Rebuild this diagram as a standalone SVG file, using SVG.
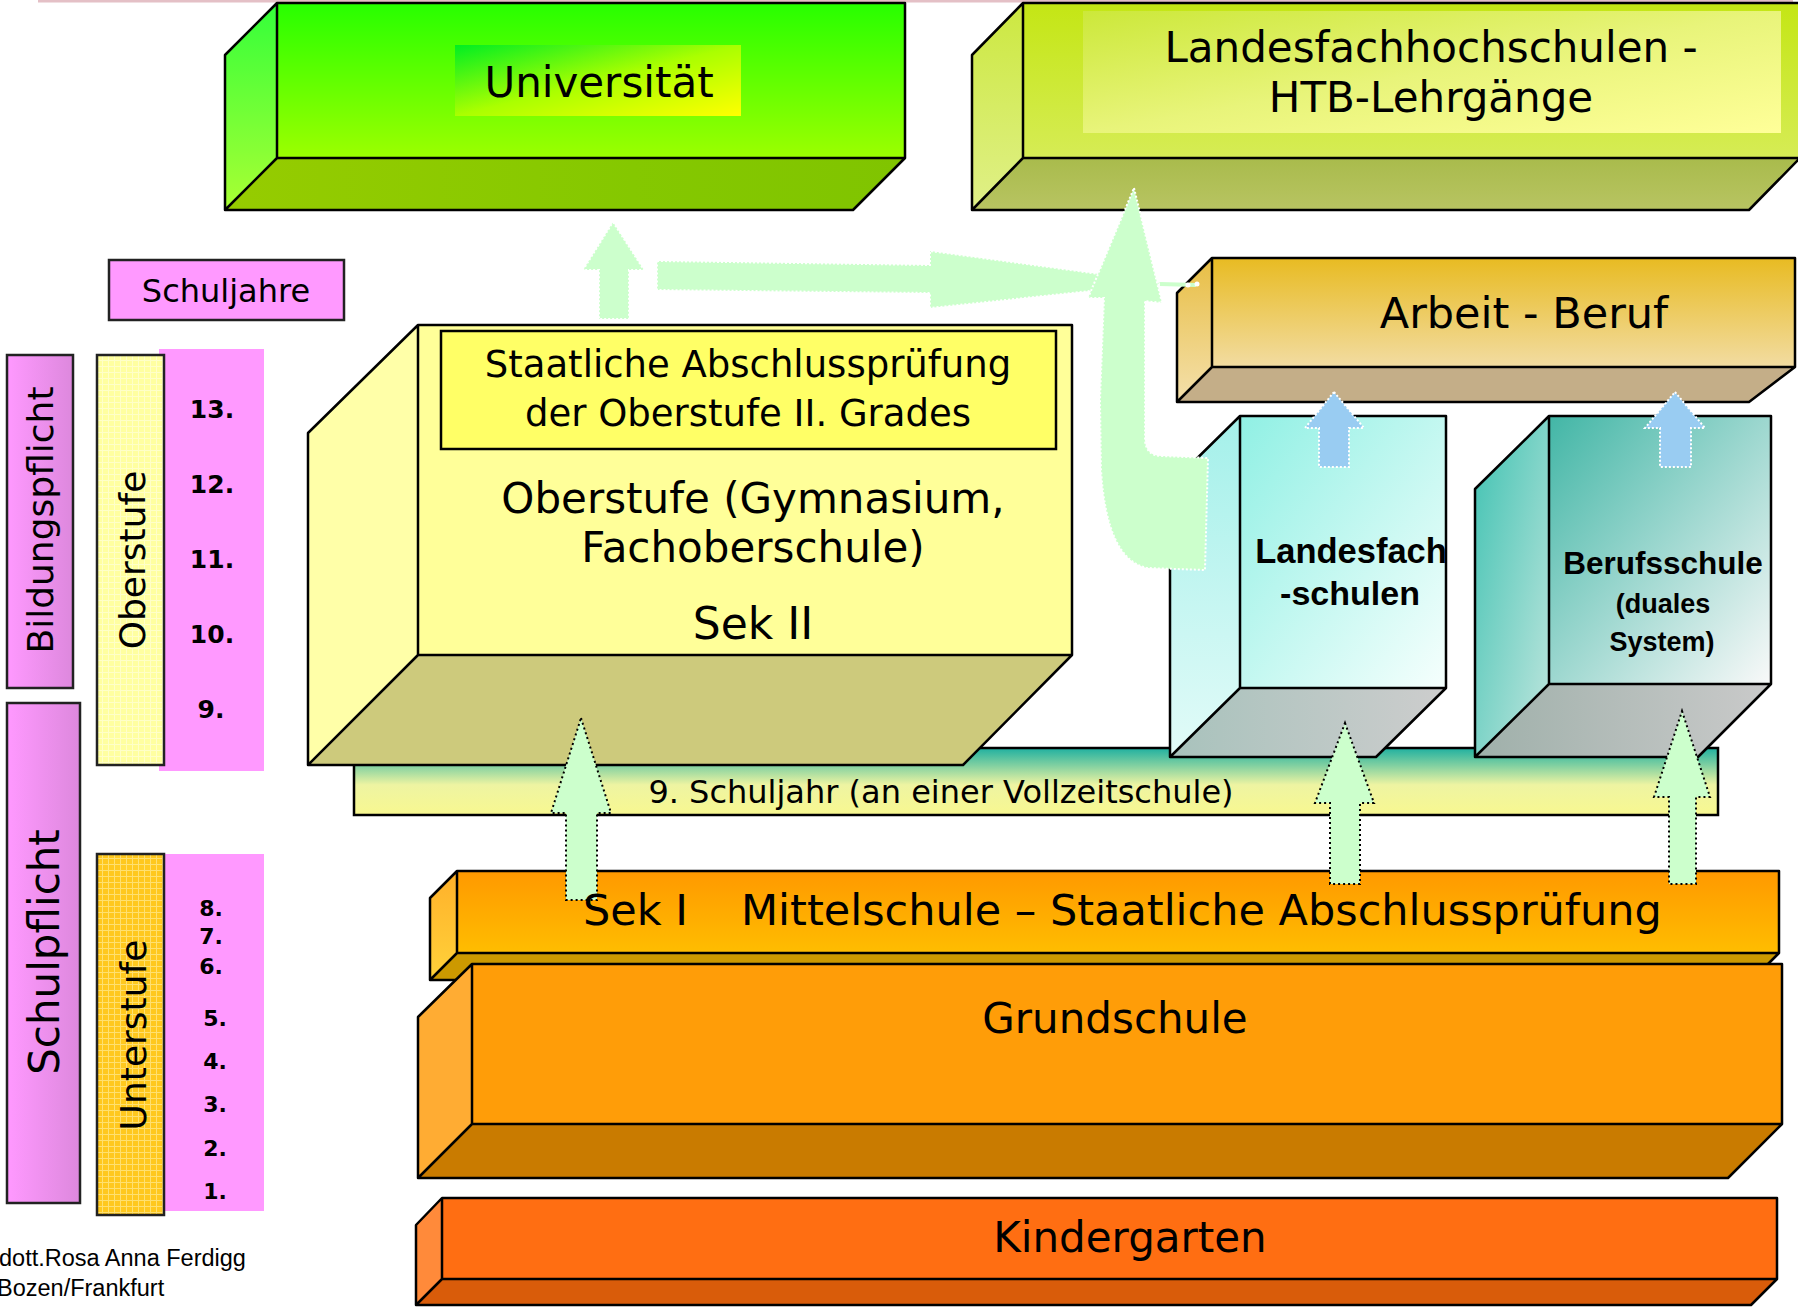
<svg xmlns="http://www.w3.org/2000/svg" width="1798" height="1311" viewBox="0 0 1798 1311">
<style>
.edge{fill:none;stroke:#000;stroke-width:2.5;stroke-linejoin:round}
.lbl{font-family:"DejaVu Sans",Verdana,sans-serif;fill:#000;text-anchor:middle}
.num{font-family:"DejaVu Sans",Verdana,sans-serif;font-weight:bold;fill:#000;text-anchor:middle}
.bold{font-family:"Liberation Sans",Arial,sans-serif;font-weight:bold;fill:#000;text-anchor:middle}
.foot{font-family:"Liberation Sans",Arial,sans-serif;fill:#000;font-size:23.5px}
.garrow{fill:#ccffcc;stroke:#000;stroke-width:2;stroke-dasharray:2 3}
.farrow{fill:#ccffcc;stroke:#fff;stroke-width:2;stroke-dasharray:2 2}
.barrow{fill:#99ccf2;stroke:#fff;stroke-width:2;stroke-dasharray:2 2}
</style>
<defs>
<linearGradient id="uniFront" x1="0" y1="0" x2="0" y2="1"><stop offset="0" stop-color="#27ff00"/><stop offset="1" stop-color="#9cff00"/></linearGradient>
<linearGradient id="uniSide" x1="0" y1="0" x2="0" y2="1"><stop offset="0" stop-color="#33ff3a"/><stop offset="1" stop-color="#aaff33"/></linearGradient>
<linearGradient id="uniBottom" x1="0" y1="0" x2="1" y2="0"><stop offset="0" stop-color="#96cc00"/><stop offset="0.6" stop-color="#85c800"/><stop offset="1" stop-color="#80c400"/></linearGradient>
<linearGradient id="uniLabel" x1="0" y1="0" x2="1" y2="1"><stop offset="0" stop-color="#00ee22"/><stop offset="0.5" stop-color="#aaff00"/><stop offset="1" stop-color="#ffff00"/></linearGradient>
<linearGradient id="fhFront" x1="0" y1="0" x2="0" y2="1"><stop offset="0" stop-color="#c4e614"/><stop offset="1" stop-color="#d6ec55"/></linearGradient>
<linearGradient id="fhSide" x1="0" y1="0" x2="0" y2="1"><stop offset="0" stop-color="#cce840"/><stop offset="1" stop-color="#e0f088"/></linearGradient>
<linearGradient id="fhBottom" x1="0" y1="0" x2="0" y2="1"><stop offset="0" stop-color="#a9bb4c"/><stop offset="1" stop-color="#b8c462"/></linearGradient>
<linearGradient id="fhLabel" x1="0" y1="0" x2="1" y2="1"><stop offset="0" stop-color="#cce83a"/><stop offset="0.5" stop-color="#e8f47a"/><stop offset="1" stop-color="#ffff99"/></linearGradient>
<linearGradient id="abFront" x1="0" y1="0" x2="0" y2="1"><stop offset="0" stop-color="#e8bb22"/><stop offset="1" stop-color="#f2dca2"/></linearGradient>
<linearGradient id="abSide" x1="0" y1="0" x2="0" y2="1"><stop offset="0" stop-color="#e8be44"/><stop offset="1" stop-color="#f4e0ac"/></linearGradient>
<linearGradient id="barGrad" x1="0" y1="0" x2="0" y2="1"><stop offset="0" stop-color="#1fb0a0"/><stop offset="0.55" stop-color="#eef4a2"/><stop offset="1" stop-color="#f8f890"/></linearGradient>
<linearGradient id="lfFront" x1="0" y1="0" x2="1" y2="1"><stop offset="0" stop-color="#90f0e4"/><stop offset="1" stop-color="#f6fffd"/></linearGradient>
<linearGradient id="lfSide" x1="0" y1="0" x2="0" y2="1"><stop offset="0" stop-color="#a4f0ea"/><stop offset="1" stop-color="#e2fbf8"/></linearGradient>
<linearGradient id="lfBottom" x1="0" y1="0" x2="1" y2="0"><stop offset="0" stop-color="#a8c2bc"/><stop offset="1" stop-color="#cdcdcd"/></linearGradient>
<linearGradient id="bsFront" x1="0" y1="0" x2="1" y2="1"><stop offset="0" stop-color="#42b6a6"/><stop offset="1" stop-color="#f9f9f9"/></linearGradient>
<linearGradient id="bsSide" x1="0" y1="0" x2="1" y2="1"><stop offset="0" stop-color="#40c2b2"/><stop offset="1" stop-color="#c0e6de"/></linearGradient>
<linearGradient id="bsBottom" x1="0" y1="0" x2="1" y2="0"><stop offset="0" stop-color="#9fb0aa"/><stop offset="1" stop-color="#cacaca"/></linearGradient>
<linearGradient id="s1Front" x1="0" y1="0" x2="0" y2="1"><stop offset="0" stop-color="#ff9900"/><stop offset="1" stop-color="#ffbd00"/></linearGradient>
<linearGradient id="s1Side" x1="0" y1="0" x2="0" y2="1"><stop offset="0" stop-color="#ffb02a"/><stop offset="1" stop-color="#ffd23a"/></linearGradient>
<linearGradient id="pinkGrad" x1="0" y1="0" x2="1" y2="0"><stop offset="0" stop-color="#ff99ff"/><stop offset="1" stop-color="#dd88dd"/></linearGradient>
<pattern id="grid" width="6" height="6" patternUnits="userSpaceOnUse"><rect width="6" height="6" fill="#ffc81e"/><path d="M0,0.5H6M0.5,0V6" stroke="#ffe070" stroke-width="1"/></pattern>
<pattern id="gridY" width="6" height="6" patternUnits="userSpaceOnUse"><rect width="6" height="6" fill="#ffffa0"/><path d="M0,0.5H6M0.5,0V6" stroke="#ffffc8" stroke-width="1"/></pattern>
</defs>

<rect x="0" y="0" width="1798" height="1311" fill="#fff"/>
<rect x="38" y="0" width="1755" height="2.5" fill="#e4c0c6"/>

<g id="universitaet">
<polygon points="225,55 277,3 277,158 225,210" fill="url(#uniSide)"/>
<polygon points="225,210 277,158 905,158 853,210" fill="url(#uniBottom)"/>
<rect x="277" y="3" width="628" height="155" fill="url(#uniFront)"/>
<rect x="455" y="45" width="286" height="71" fill="url(#uniLabel)"/>
<path class="edge" d="M225,55 L277,3 L905,3 L905,158 L853,210 L225,210 Z M277,3 L277,158 L905,158 M277,158 L225,210"/>
<text class="lbl" x="599" y="97" font-size="42">Universität</text>
</g>

<g id="landesfachhochschulen">
<polygon points="972,55 1023,3 1023,158 972,210" fill="url(#fhSide)"/>
<polygon points="972,210 1023,158 1800,158 1749,210" fill="url(#fhBottom)"/>
<rect x="1023" y="3" width="777" height="155" fill="url(#fhFront)"/>
<rect x="1083" y="11" width="698" height="122" fill="url(#fhLabel)"/>
<path class="edge" d="M1800,3 L1023,3 L972,55 L972,210 L1749,210 L1800,158 M1023,3 L1023,158 L1800,158 M1023,158 L972,210"/>
<text class="lbl" x="1431" y="62" font-size="42">Landesfachhochschulen -</text>
<text class="lbl" x="1431" y="112" font-size="42">HTB-Lehrgänge</text>
</g>

<g id="arbeit-beruf">
<polygon points="1177,293 1212,258 1212,367 1177,402" fill="url(#abSide)"/>
<polygon points="1177,402 1212,367 1795,367 1749,402" fill="#c4ae88"/>
<rect x="1212" y="258" width="583" height="109" fill="url(#abFront)"/>
<path class="edge" d="M1177,293 L1212,258 L1795,258 L1795,367 L1749,402 L1177,402 Z M1212,258 L1212,367 L1795,367 M1212,367 L1177,402"/>
<text class="lbl" x="1524" y="328" font-size="43">Arbeit - Beruf</text>
</g>

<g id="schuljahre">
<rect x="109" y="260" width="235" height="60" fill="#ff99ff" stroke="#222" stroke-width="2.5"/>
<text class="lbl" x="226" y="302" font-size="32">Schuljahre</text>
</g>

<g id="bildungspflicht">
<rect x="7" y="355" width="66" height="333" fill="url(#pinkGrad)" stroke="#222" stroke-width="2.5"/>
<text class="lbl" x="53" y="520" font-size="36" transform="rotate(-90 53 520)">Bildungspflicht</text>
</g>

<g id="jahre-oben">
<rect x="159" y="349" width="105" height="422" fill="#ff99ff"/>
<text class="num" x="212" y="418" font-size="25">13.</text>
<text class="num" x="212" y="493" font-size="25">12.</text>
<text class="num" x="212" y="568" font-size="25">11.</text>
<text class="num" x="212" y="643" font-size="25">10.</text>
<text class="num" x="211" y="718" font-size="25">9.</text>
</g>

<g id="oberstufe-spalte">
<rect x="97" y="355" width="67" height="410" fill="url(#gridY)" stroke="#222" stroke-width="2.5"/>
<text class="lbl" x="145" y="560" font-size="36" transform="rotate(-90 145 560)">Oberstufe</text>
</g>

<g id="schulpflicht">
<rect x="7" y="703" width="73" height="500" fill="url(#pinkGrad)" stroke="#222" stroke-width="2.5"/>
<text class="lbl" x="59" y="952" font-size="42" transform="rotate(-90 59 952)">Schulpflicht</text>
</g>

<g id="jahre-unten">
<rect x="164" y="854" width="100" height="357" fill="#ff99ff"/>
<text class="num" x="211" y="916" font-size="22">8.</text>
<text class="num" x="211" y="944" font-size="22">7.</text>
<text class="num" x="211" y="974" font-size="22">6.</text>
<text class="num" x="215" y="1026" font-size="22">5.</text>
<text class="num" x="215" y="1069" font-size="22">4.</text>
<text class="num" x="215" y="1112" font-size="22">3.</text>
<text class="num" x="215" y="1156" font-size="22">2.</text>
<text class="num" x="215" y="1199" font-size="22">1.</text>
</g>

<g id="unterstufe-spalte">
<rect x="97" y="854" width="67" height="361" fill="url(#grid)" stroke="#222" stroke-width="2.5"/>
<text class="lbl" x="146" y="1035" font-size="36" transform="rotate(-90 146 1035)">Unterstufe</text>
</g>

<g id="neuntes-schuljahr">
<rect x="354" y="748" width="1364" height="67" fill="url(#barGrad)" stroke="#000" stroke-width="2.5"/>
<text class="lbl" x="941" y="803" font-size="32">9. Schuljahr (an einer Vollzeitschule)</text>
</g>

<g id="oberstufe">
<polygon points="308,433 418,325 418,655 308,765" fill="#ffffa8"/>
<polygon points="308,765 418,655 1072,655 963,765" fill="#cdca7c"/>
<rect x="418" y="325" width="654" height="330" fill="#ffff99"/>
<rect x="441" y="331" width="615" height="118" fill="#ffff66" stroke="#000" stroke-width="2.5"/>
<path class="edge" d="M308,433 L418,325 L1072,325 L1072,655 L963,765 L308,765 Z M418,325 L418,655 L1072,655 M418,655 L308,765"/>
<text class="lbl" x="748" y="377" font-size="37">Staatliche Abschlussprüfung</text>
<text class="lbl" x="748" y="426" font-size="37">der Oberstufe II. Grades</text>
<text class="lbl" x="753" y="513" font-size="42">Oberstufe (Gymnasium,</text>
<text class="lbl" x="753" y="562" font-size="42">Fachoberschule)</text>
<text class="lbl" x="753" y="639" font-size="44">Sek II</text>
</g>

<g id="landesfachschulen">
<polygon points="1170,485 1240,416 1240,688 1170,757" fill="url(#lfSide)"/>
<polygon points="1170,757 1240,688 1446,688 1376,757" fill="url(#lfBottom)"/>
<rect x="1240" y="416" width="206" height="272" fill="url(#lfFront)"/>
<path class="edge" d="M1170,485 L1240,416 L1446,416 L1446,688 L1376,757 L1170,757 Z M1240,416 L1240,688 L1446,688 M1240,688 L1170,757"/>
<text class="bold" x="1351" y="563" font-size="34.5">Landesfach</text>
<text class="bold" x="1350" y="605" font-size="34">-schulen</text>
</g>

<g id="berufsschule">
<polygon points="1475,489 1549,416 1549,684 1475,757" fill="url(#bsSide)"/>
<polygon points="1475,757 1549,684 1771,684 1698,757" fill="url(#bsBottom)"/>
<rect x="1549" y="416" width="222" height="268" fill="url(#bsFront)"/>
<path class="edge" d="M1475,489 L1549,416 L1771,416 L1771,684 L1698,757 L1475,757 Z M1549,416 L1549,684 L1771,684 M1549,684 L1475,757"/>
<text class="bold" x="1663" y="574" font-size="31.5">Berufsschule</text>
<text class="bold" x="1663" y="613" font-size="27">(duales</text>
<text class="bold" x="1662" y="651" font-size="27">System)</text>
</g>

<g id="sek1">
<polygon points="430,898 457,871 457,953 430,980" fill="url(#s1Side)"/>
<polygon points="430,980 457,953 1779,953 1752,980" fill="#cc9900"/>
<rect x="457" y="871" width="1322" height="82" fill="url(#s1Front)"/>
<path class="edge" d="M430,898 L457,871 L1779,871 L1779,953 L1752,980 L430,980 Z M457,871 L457,953 L1779,953 M457,953 L430,980"/>
</g>

<g id="grundschule">
<polygon points="418,1017 472,964 472,1124 418,1178" fill="#ffac33"/>
<polygon points="418,1178 472,1124 1782,1124 1728,1178" fill="#c97b00"/>
<rect x="472" y="964" width="1310" height="160" fill="#ff9d08"/>
<path class="edge" d="M418,1017 L472,964 L1782,964 L1782,1124 L1728,1178 L418,1178 Z M472,964 L472,1124 L1782,1124 M472,1124 L418,1178"/>
<text class="lbl" x="1115" y="1033" font-size="42">Grundschule</text>
</g>

<g id="kindergarten">
<polygon points="416,1225 442,1198 442,1279 416,1305" fill="#ff8a3a"/>
<polygon points="416,1305 442,1279 1777,1279 1751,1305" fill="#d95c0a"/>
<rect x="442" y="1198" width="1335" height="81" fill="#ff6e12"/>
<path class="edge" d="M416,1225 L442,1198 L1777,1198 L1777,1279 L1751,1305 L416,1305 Z M442,1198 L442,1279 L1777,1279 M442,1279 L416,1305"/>
<text class="lbl" x="1130" y="1252" font-size="42">Kindergarten</text>
</g>

<g id="connectors">
<polygon class="farrow" points="613,222 644,270 629,270 629,319 599,319 599,270 583,270"/>
<polygon class="farrow" points="657,261 930,265 930,251 1165,283 930,308 930,293 657,290"/>
<line x1="1160" y1="284" x2="1196" y2="285" stroke="#ccffcc" stroke-width="4"/>
<circle cx="1188" cy="285" r="2.5" fill="#fff"/>
<circle cx="1197" cy="284" r="2.5" fill="#fff"/>
<path class="farrow" d="M1134,188 L1162,303 L1145,301 L1145,440 Q1146,456 1162,456 L1208,458 L1205,570 L1147,568 C1120,562 1105,530 1101,470 L1100,400 L1104,298 L1088,298 Z"/>
<polygon class="barrow" points="1334,392 1364,428 1349,428 1349,467 1319,467 1319,428 1305,428"/>
<polygon class="barrow" points="1675,392 1705,428 1691,428 1691,467 1660,467 1660,428 1645,428"/>
<polygon class="garrow" points="581,718 611,813 597,813 597,900 566,900 566,813 551,813"/>
<polygon class="garrow" points="1345,723 1374,803 1360,803 1360,884 1330,884 1330,803 1315,803"/>
<polygon class="garrow" points="1682,711 1710,797 1696,797 1696,884 1669,884 1669,797 1654,797"/>
</g>

<g id="sek1-label">
<text class="lbl" x="583" y="925" font-size="43" style="text-anchor:start">Sek I</text>
<text class="lbl" x="741" y="925" font-size="43" style="text-anchor:start">Mittelschule – Staatliche Abschlussprüfung</text>
</g>

<g id="autor">
<text class="foot" x="-1" y="1266">dott.Rosa Anna Ferdigg</text>
<text class="foot" x="-3" y="1296">Bozen/Frankfurt</text>
</g>
</svg>
